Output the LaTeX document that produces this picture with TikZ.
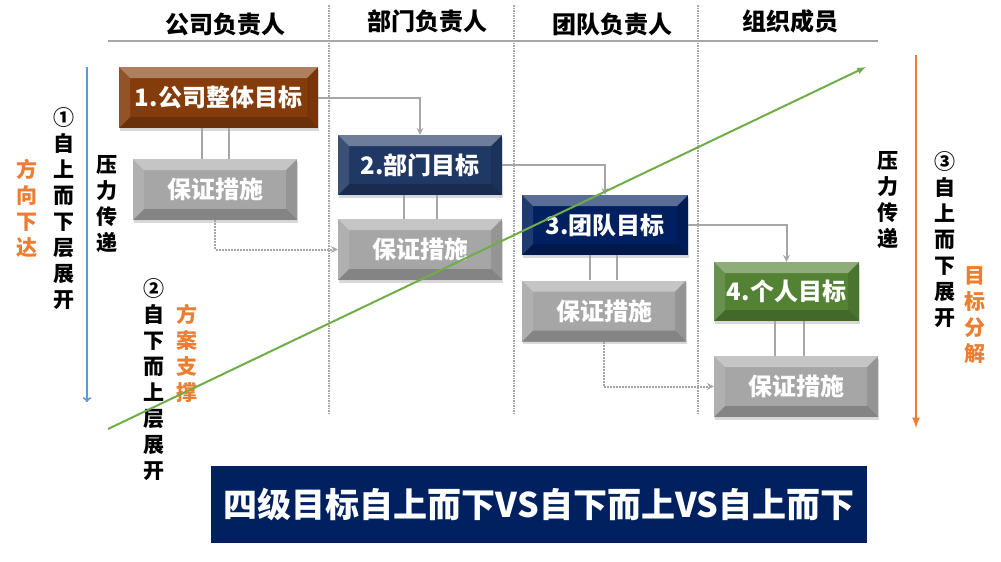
\documentclass[tikz,border=0pt]{standalone}
\usepackage{fontspec}
\setmainfont{Noto Sans CJK SC}
\usepackage{tikz}
\usepackage{xcolor}
\usetikzlibrary{arrows,calc,positioning,shadows}
\definecolor{mybrown}{HTML}{843C0C}
\definecolor{myblue}{HTML}{203864}
\definecolor{navy}{HTML}{002060}
\definecolor{mygreen}{HTML}{548235}
\definecolor{mygray}{HTML}{A6A6A6}
\definecolor{lineblue}{HTML}{5B9BD5}
\definecolor{myorange}{HTML}{ED7D31}
\definecolor{mylime}{HTML}{70AD47}
\tikzset{%
  bevel/.style={path picture={
    \fill[white,opacity=0.35] (path picture bounding box.north west) -- (path picture bounding box.north east)
      -- ([shift={(-11pt,-11pt)}]path picture bounding box.north east) -- ([shift={(11pt,-11pt)}]path picture bounding box.north west) -- cycle;
    \fill[black,opacity=0.2] (path picture bounding box.south west) -- (path picture bounding box.south east)
      -- ([shift={(-11pt,11pt)}]path picture bounding box.south east) -- ([shift={(11pt,11pt)}]path picture bounding box.south west) -- cycle;
    \fill[white,opacity=0.12] (path picture bounding box.north west) -- ([shift={(11pt,-11pt)}]path picture bounding box.north west)
      -- ([shift={(11pt,11pt)}]path picture bounding box.south west) -- (path picture bounding box.south west) -- cycle;
    \fill[black,opacity=0.1] (path picture bounding box.north east) -- ([shift={(-11pt,-11pt)}]path picture bounding box.north east)
      -- ([shift={(-11pt,11pt)}]path picture bounding box.south east) -- (path picture bounding box.south east) -- cycle;
  }},
  goal/.style={bevel,fill=#1,text=white,font=\fontsize{24}{24}\selectfont\bfseries,minimum height=61pt,inner sep=0pt,
    drop shadow={opacity=0.3,shadow xshift=0.5pt,shadow yshift=-2.5pt}},
  measure/.style={goal=mygray,minimum width=164pt},
  link/.style={draw=mygray,line width=2pt},
  flow/.style={link,-stealth},
  dotflow/.style={link,densely dotted,-stealth},
  lane/.style={draw=mygray,line width=1.5pt,densely dotted},
  head/.style={font=\fontsize{24}{24}\selectfont\bfseries},
  vtext/.style={align=center,inner sep=0pt,font=\fontsize{21}{26}\selectfont\bfseries},
  banner/.style={fill=navy,text=white,minimum width=656pt,minimum height=77pt,font=\fontsize{34}{34}\selectfont\bfseries},
}

\begin{document}
\begin{tikzpicture}[x=1pt,y=-1pt]
  \useasboundingbox (0,0) rectangle (1001,562);

  % lanes and headers
  \draw[mygray,line width=2.5pt] (108,41) -- (878,41);
  \foreach \x in {329,514,698}
    \draw[lane] (\x,5) -- (\x,415);
  \node[head] (h1) at (225.5,24) {公司负责人};
  \node[head] (h2) at (427,21) {部门负责人};
  \node[head] (h3) at (612,24) {团队负责人};
  \node[head] (h4) at (790.5,21) {组织成员};

  % goals and measures
  \node[goal=mybrown,minimum width=199pt] (b1) at (218.5,97.5) {1.公司整体目标};
  \node[measure] (g1) at (215,189.5) {保证措施};
  \node[goal=myblue,minimum width=164pt,minimum height=60pt] (b2) at (420,165) {2.部门目标};
  \node[measure] (g2) at (420,249.5) {保证措施};
  \node[goal=navy,minimum width=166pt,minimum height=60pt] (b3) at (605,225) {3.团队目标};
  \node[measure] (g3) at (604,311) {保证措施};
  \node[goal=mygreen,minimum width=145pt,minimum height=59pt] (b4) at (786.5,291.5) {4.个人目标};
  \node[measure] (g4) at (796,386.5) {保证措施};

  \foreach \b/\g/\l/\r in {b1/g1/-13/14,b2/g2/-16/17,b3/g3/-14/13,b4/g4/-21/8} {
    \draw[link] ([xshift=\l pt]\g.north) -- ([xshift=\l pt]\g.north |- \b.south);
    \draw[link] ([xshift=\r pt]\g.north) -- ([xshift=\r pt]\g.north |- \b.south);
  }
  \draw[flow] (b1.east) -| (b2.north);
  \draw[flow] (b2.east) -| (b3.north);
  \draw[flow] (b3.east) -| (b4.north);
  \draw[dotflow] (g1.south) |- (g2.west);
  \draw[dotflow] (g3.south) |- (g4.west);

  % side labels
  \node[vtext,text=myorange] (dir) at (27,208) {方\\向\\下\\达};
  \node[vtext] (topdown) at (64,209) {①\\自\\上\\而\\下\\层\\展\\开};
  \node[vtext] (pressL) at (107,204) {压\\力\\传\\递};
  \node[vtext] (bottomup) at (154,380) {②\\自\\下\\而\\上\\层\\展\\开};
  \node[vtext,text=myorange] (plan) at (187,353) {方\\案\\支\\撑};
  \node[vtext] (pressR) at (888,200) {压\\力\\传\\递};
  \node[vtext] (topdownR) at (945,240) {③\\自\\上\\而\\下\\展\\开};
  \node[vtext,text=myorange] (split) at (975,315) {目\\标\\分\\解};

  \coordinate (down-top) at (87,67);
  \coordinate (down-end) at (87,402);
  \coordinate (split-top) at (916,55);
  \coordinate (split-end) at (916,428);
  \coordinate (up-start) at (108,429);
  \coordinate (up-end) at (866,67);
  \draw[-to,lineblue,line width=2pt] (down-top) -- (down-end);
  \draw[-latex,myorange,line width=2.5pt] (split-top) -- (split-end);
  \draw[-latex,mylime,line width=2pt] (up-start) -- (up-end);

  \node[banner] (title) at (539,504.5) {四级目标自上而下VS自下而上VS自上而下};
\end{tikzpicture}
\end{document}
